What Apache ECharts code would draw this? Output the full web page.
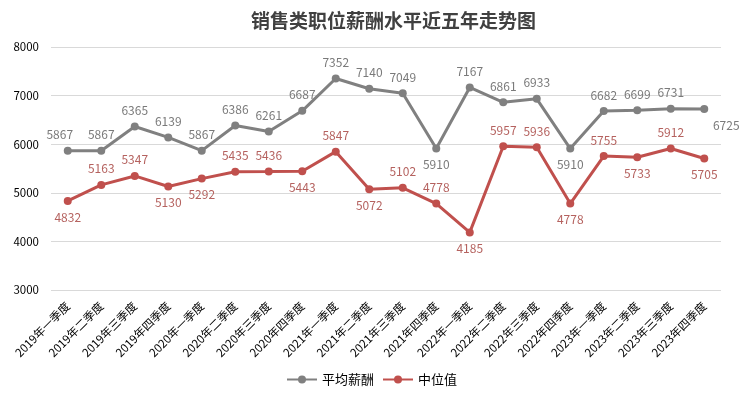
<!DOCTYPE html>
<html><head><meta charset="utf-8">
<script src="https://cdn.jsdelivr.net/npm/echarts@6/dist/echarts.min.js"></script>
<style>html,body{margin:0;padding:0;background:#fff}#c{width:743px;height:395px}</style>
</head><body><div id="c"></div>
<script>
const categories = ['2019年一季度','2019年二季度','2019年三季度','2019年四季度','2020年一季度','2020年二季度','2020年三季度','2020年四季度','2021年一季度','2021年二季度','2021年三季度','2021年四季度','2022年一季度','2022年二季度','2022年三季度','2022年四季度','2023年一季度','2023年二季度','2023年三季度','2023年四季度'];
const avgSalary = [5867,5867,6365,6139,5867,6386,6261,6687,7352,7140,7049,5910,7167,6861,6933,5910,6682,6699,6731,6725];
const medianSalary = [4832,5163,5347,5130,5292,5435,5436,5443,5847,5072,5102,4778,4185,5957,5936,4778,5755,5733,5912,5705];
const avgLabelPos = ['top','top','top','top','top','top','top','top','top','top','top','bottom','top','top','top','bottom','top','top','top','bottom'];
const medLabelPos = ['bottom','top','top','bottom','bottom','top','top','bottom','top','bottom','top','top','bottom','top','top','bottom','top','bottom','top','bottom'];
const yTicks = {min:3000, max:8000, interval:1000};

const font = '"Noto Sans CJK SC", "Noto Sans", sans-serif';
function mk(vals, pos, extra){
  return vals.map((v,i)=>{
    const o = {value:v, label:{position:pos[i]}};
    if (extra && extra[i]) o.label = Object.assign(o.label, extra[i]);
    return o;
  });
}
const avgExtra = {0:{offset:[-8,0]}, 19:{offset:[22,0]}};
const chart = echarts.init(document.getElementById('c'));
chart.setOption({
  animation:false,
  title:{text:'销售类职位薪酬水平近五年走势图', left:246, top:6,
    textStyle:{fontFamily:font, fontSize:19, fontWeight:'bold', color:'#404040'}},
  grid:{left:51, right:22, top:47, bottom:105},
  legend:{bottom:4, left:'center', itemWidth:30, itemHeight:10, itemGap:8,
    textStyle:{fontFamily:font, fontSize:13, color:'#000'},
    data:['平均薪酬','中位值']},
  xAxis:{type:'category', data:categories, boundaryGap:true,
    axisLine:{show:false}, axisTick:{show:false},
    axisLabel:{rotate:45, interval:0, fontFamily:font, fontSize:11.5, color:'#000', margin:14}},
  yAxis:{type:'value', min:yTicks.min, max:yTicks.max, interval:yTicks.interval,
    axisLine:{show:false}, axisTick:{show:false},
    axisLabel:{fontFamily:font, fontSize:11.5, color:'#000', margin:12, formatter:v=>String(v)},
    splitLine:{lineStyle:{color:'#d9d9d9', width:1}}},
  series:[
    {name:'平均薪酬', type:'line', data:mk(avgSalary, avgLabelPos, avgExtra),
      symbol:'circle', symbolSize:8, color:'#808080',
      lineStyle:{width:3, color:'#808080'}, itemStyle:{color:'#808080'},
      label:{show:true, fontFamily:font, fontSize:12, color:'#7a7a7a', distance:6}},
    {name:'中位值', type:'line', data:mk(medianSalary, medLabelPos),
      symbol:'circle', symbolSize:8, color:'#c0504d',
      lineStyle:{width:3, color:'#c0504d'}, itemStyle:{color:'#c0504d'},
      label:{show:true, fontFamily:font, fontSize:12, color:'#b5625f', distance:6}}
  ]
});
</script></body></html>
